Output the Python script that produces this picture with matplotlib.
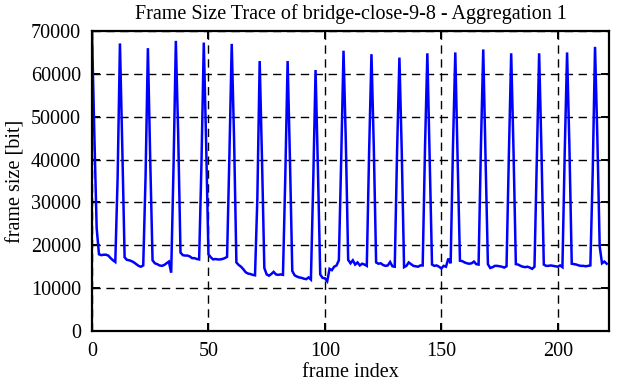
import matplotlib
matplotlib.use("Agg")
import matplotlib.pyplot as plt
from matplotlib.ticker import FixedLocator

plt.rcParams['font.family'] = ['Liberation Serif', 'DejaVu Serif']

title = "Frame Size Trace of bridge-close-9-8 - Aggregation 1"
x_label = "frame index"
y_label = "frame size [bit]"
x_ticks = [0, 50, 100, 150, 200]
y_ticks = [0, 10000, 20000, 30000, 40000, 50000, 60000, 70000]

# frame sizes [bit], one GOP (12 frames) per row
frame_size = [
    69500, 46000, 24000, 17900, 17700, 17800, 17800, 17600, 17000, 16500, 16100, 35700,
    67100, 43000, 17200, 16600, 16500, 16300, 16000, 15600, 15200, 15000, 15300, 36000,
    66000, 40000, 16500, 15800, 15600, 15300, 15200, 15400, 15800, 16200, 13600, 38000,
    67700, 46000, 18300, 17700, 17600, 17600, 17400, 17000, 17000, 16800, 16700, 39000,
    67300, 44000, 17900, 17200, 16700, 16800, 16700, 16700, 16800, 17000, 17300, 41000,
    67000, 45000, 16000, 15400, 15000, 14400, 13700, 13400, 13300, 13100, 13000, 31000,
    63000, 40000, 14700, 13200, 12900, 13300, 13800, 13200, 13100, 13200, 13100, 36000,
    63000, 40000, 14000, 13000, 12700, 12500, 12400, 12200, 12100, 12500, 12000, 35000,
    60900, 38000, 13200, 12400, 12300, 11600, 14500, 14200, 15000, 15300, 16500, 40000,
    65400, 44000, 16600, 15800, 16500, 15500, 16000, 15300, 15700, 15500, 15200, 42000,
    64600, 43000, 16000, 15700, 15800, 15400, 15200, 15300, 16100, 15100, 15000, 42000,
    63800, 42000, 14900, 15200, 16000, 15600, 15200, 15100, 15000, 15300, 15300, 43000,
    64800, 40000, 15500, 15200, 15300, 15000, 14600, 15200, 15000, 16900, 15800, 43000,
    65000, 40000, 16400, 16300, 16000, 15800, 15700, 15800, 16200, 15600, 15500, 43000,
    65700, 40000, 15600, 14700, 14900, 15200, 15200, 15100, 15000, 14800, 15100, 41000,
    64800, 42000, 15600, 15500, 15200, 15000, 14900, 15000, 14800, 14500, 15000, 40000,
    64800, 42000, 15500, 15200, 15200, 15300, 15200, 15100, 15000, 15300, 14900, 42000,
    65000, 43000, 15700, 15600, 15500, 15300, 15200, 15200, 15100, 15200, 15300, 37000,
    66300, 45000, 19700, 15800, 16200, 15700,
]
frame_index = list(range(len(frame_size)))

fig = plt.figure(figsize=(6.17, 3.82), dpi=100)
ax = fig.add_axes([92/617, 1-331/382, (609-92)/617, (331-31)/382])

ax.plot(frame_index, frame_size, color='#0000ff', lw=1.8, solid_joinstyle='miter')

ax.set_xlim(0, 222)
ax.set_ylim(0, 70000)
ax.xaxis.set_major_locator(FixedLocator(x_ticks))
ax.yaxis.set_major_locator(FixedLocator(y_ticks))
ax.set_xticklabels([str(v) for v in x_ticks])
ax.set_yticklabels([str(v) for v in y_ticks])

ax.grid(True, color='black', linestyle=(0, (6, 4)), lw=1.0)
ax.tick_params(direction='in', length=6, width=1.4, top=True, right=True,
               labelsize=14.5, colors='black', pad=8)
for s in ax.spines.values():
    s.set_linewidth(1.6)
    s.set_color('black')

ax.set_title(title, fontsize=14.5, pad=9)
ax.set_xlabel(x_label, fontsize=14.5, labelpad=1.5)
ax.set_ylabel(y_label, fontsize=14.5, labelpad=4)

fig.savefig("out.png", dpi=100)
